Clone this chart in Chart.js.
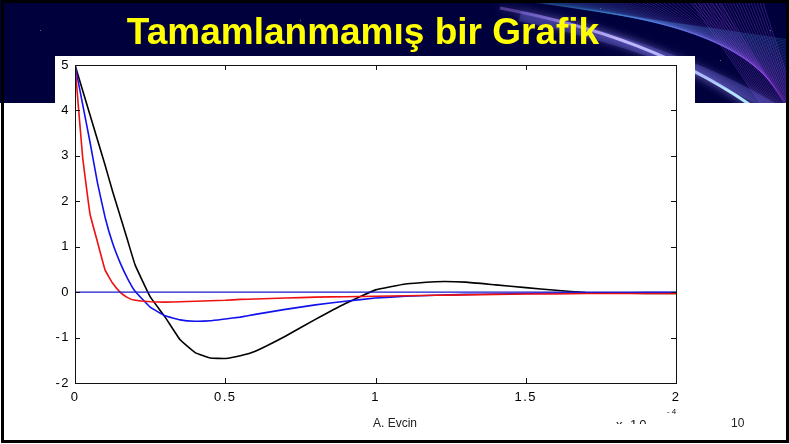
<!DOCTYPE html>
<html>
<head>
<meta charset="utf-8">
<script src="https://cdn.jsdelivr.net/npm/chart.js@4/dist/chart.umd.min.js"></script>
<style>
html,body{margin:0;padding:0;background:#fff;width:789px;height:444px;overflow:hidden;font-family:"Liberation Sans",Arial,sans-serif}
#bg{position:absolute;left:0;top:0}
#plotbox{position:absolute;left:55px;top:56px;width:640px;height:368px;background:#fff}
#frame{position:absolute;left:1px;top:0;width:788px;height:443px;box-sizing:border-box;border:3px solid #000;pointer-events:none}
#title{position:absolute;left:0;width:726px;top:13px;line-height:37px;text-align:center;color:#ffff00;font-weight:bold;font-size:37px;white-space:nowrap}
#chartWrap{position:absolute;left:0;top:0;width:789px;height:444px}
#author{position:absolute;left:373px;top:416px;font-size:12px;color:#222;line-height:14px}
#page{position:absolute;left:731px;top:416px;font-size:12px;color:#222;line-height:14px}
#expo{position:absolute;left:616px;top:404px;width:70px;height:20px;overflow:hidden;font-size:13px;color:#111;letter-spacing:2px}
#expo span.base{position:absolute;left:0;top:13px;line-height:15px}
#expo sup{position:absolute;left:51px;top:3px;font-size:8px;line-height:9px}
</style>
</head>
<body>
<canvas id="bg" width="789" height="444"></canvas>
<div id="title">Tamamlanmamış bir Grafik</div>
<div id="plotbox"></div>
<div id="chartWrap"><canvas id="c" width="789" height="444"></canvas></div>
<div id="expo"><span class="base">x 10</span><sup>-4</sup></div>
<div id="author">A. Evcin</div>
<div id="page">10</div>
<div id="frame"></div>
<script>
// ---- data (time in units of 1e-4) ----
const tValues = [0, 0.025, 0.05, 0.075, 0.1, 0.125, 0.15, 0.175, 0.2, 0.25, 0.3, 0.35, 0.4, 0.45, 0.5, 0.55, 0.6, 0.7, 0.8, 0.9, 1.0, 1.1, 1.2, 1.3, 1.4, 1.5, 1.6, 1.7, 1.8, 1.9, 2.0];
const blackSeries = [5, 4.45, 3.9, 3.35, 2.8, 2.22, 1.68, 1.14, 0.6, -0.1, -0.55, -1.05, -1.33, -1.45, -1.46, -1.4, -1.3, -0.97, -0.6, -0.25, 0.05, 0.18, 0.23, 0.22, 0.16, 0.1, 0.04, -0.01, -0.02, -0.03, -0.03];
const blueSeries  = [5, 4.15, 3.3, 2.4, 1.65, 1.08, 0.65, 0.3, 0.02, -0.33, -0.52, -0.61, -0.64, -0.63, -0.59, -0.55, -0.49, -0.38, -0.28, -0.2, -0.13, -0.09, -0.07, -0.05, -0.04, -0.03, -0.02, -0.02, -0.02, -0.01, -0.01];
const redSeries   = [5, 3.0, 1.72, 1.1, 0.49, 0.2, 0.0, -0.12, -0.18, -0.21, -0.22, -0.21, -0.2, -0.19, -0.18, -0.16, -0.15, -0.13, -0.11, -0.1, -0.09, -0.08, -0.07, -0.06, -0.05, -0.04, -0.04, -0.03, -0.03, -0.03, -0.03];
const zeroLineT = [0, 2];
const zeroLineV = [0, 0];
const xTickValues = [0, 0.5, 1, 1.5, 2];
const xTickLabels = ["0", "0.5", "1", "1.5", "2"];
const yTickValues = [-2, -1, 0, 1, 2, 3, 4, 5];
const yTickLabels = ["-2", "-1", "0", "1", "2", "3", "4", "5"];

// ---- decorative slide background ----
(function(){
  const c = document.getElementById('bg').getContext('2d');
  c.fillStyle = '#fff'; c.fillRect(0,0,789,444);
  c.fillStyle = '#00003d'; c.fillRect(0,0,789,103);
  c.save();
  c.beginPath(); c.rect(0,0,789,103); c.clip();
  c.fillStyle='rgba(200,200,255,0.5)';
  [[130,80],[300,20],[470,60],[600,8],[720,60],[770,30],[40,30],[250,90],[520,95]].forEach(p=>{c.fillRect(p[0],p[1],1,1);});
  for (let i=0;i<45;i++){
    const f=i/44;
    c.strokeStyle = `rgba(${Math.round(60+120*f)},${Math.round(150-80*f)},${Math.round(220+30*f)},0.28)`;
    c.lineWidth=1;
    c.beginPath();
    c.moveTo(520+i*4.5, 0);
    c.lineTo(789, 40+i*1.6);
    c.stroke();
  }
  for (let i=0;i<25;i++){
    c.strokeStyle = `rgba(150,90,240,0.3)`;
    c.beginPath();
    c.moveTo(690+i*3, 0);
    c.lineTo(760+i*1.5, 103);
    c.stroke();
  }
  c.shadowColor='rgba(170,150,255,0.9)'; c.shadowBlur=8;
  const g=c.createLinearGradient(520,10,760,110);
  g.addColorStop(0,'rgba(180,130,255,0.4)');
  g.addColorStop(0.4,'rgba(235,220,255,0.95)');
  g.addColorStop(1,'rgba(170,240,255,1)');
  c.strokeStyle=g; c.lineWidth=3;
  c.beginPath(); c.moveTo(500,8); c.quadraticCurveTo(660,38,760,112); c.stroke();
  c.lineWidth=10; c.strokeStyle='rgba(120,120,255,0.25)';
  c.beginPath(); c.moveTo(520,16); c.quadraticCurveTo(680,50,780,112); c.stroke();
  c.restore();
})();

// ---- chart ----
const pts = (xs, ys) => xs.map((x, i) => ({x: x, y: ys[i]}));

const boxPlugin = {
  id: 'boxTicks',
  beforeDraw(chart){ chart.ctx.letterSpacing = '1.5px'; },
  afterDraw(chart){
    const ctx = chart.ctx, a = chart.chartArea;
    const xs = chart.scales.x, ys = chart.scales.y;
    ctx.save();
    ctx.letterSpacing = '0px';
    ctx.strokeStyle = '#111'; ctx.lineWidth = 1;
    ctx.strokeRect(Math.round(a.left)+0.5, Math.round(a.top)+0.5, Math.round(a.right-a.left), Math.round(a.bottom-a.top));
    ctx.beginPath();
    yTickValues.forEach(v => {
      const p = Math.round(ys.getPixelForValue(v)) + 0.5;
      ctx.moveTo(a.left, p); ctx.lineTo(a.left + 5, p);
      ctx.moveTo(a.right, p); ctx.lineTo(a.right - 5, p);
    });
    xTickValues.forEach(v => {
      const p = Math.round(xs.getPixelForValue(v)) + 0.5;
      ctx.moveTo(p, a.bottom); ctx.lineTo(p, a.bottom - 5);
      ctx.moveTo(p, a.top); ctx.lineTo(p, a.top + 5);
    });
    ctx.stroke();
    ctx.restore();
  }
};

new Chart(document.getElementById('c'), {
  type: 'line',
  data: {
    datasets: [
      {label: 'zero', data: pts(zeroLineT, zeroLineV), borderColor: '#1a1acc', borderWidth: 1.2, pointRadius: 0, order: 0},
      {label: 'red', data: pts(tValues, redSeries), borderColor: '#ee1111', borderWidth: 1.6, pointRadius: 0, order: 1},
      {label: 'blue', data: pts(tValues, blueSeries), borderColor: '#1111ee', borderWidth: 1.6, pointRadius: 0, order: 2},
      {label: 'black', data: pts(tValues, blackSeries), borderColor: '#000000', borderWidth: 1.6, pointRadius: 0, order: 3}
    ]
  },
  options: {
    responsive: false,
    animation: false,
    events: [],
    layout: {padding: {left: 0, top: 65, right: 113, bottom: 31}},
    plugins: {legend: {display: false}, tooltip: {enabled: false}, title: {display: false}},
    elements: {line: {tension: 0.1, fill: false}},
    scales: {
      x: {
        type: 'linear', min: 0, max: 2,
        grid: {display: false, drawTicks: false},
        border: {display: false},
        afterBuildTicks: s => { s.ticks = xTickValues.map(v => ({value: v})); },
        afterFit: s => { s.height = 30; },
        ticks: {
          padding: 7, color: '#000', maxRotation: 0, autoSkip: false,
          font: {family: '"Liberation Sans", Arial, sans-serif', size: 13},
          callback: v => xTickLabels[xTickValues.indexOf(v)]
        }
      },
      y: {
        type: 'linear', min: -2, max: 5,
        grid: {display: false, drawTicks: false},
        border: {display: false},
        afterBuildTicks: s => { s.ticks = yTickValues.map(v => ({value: v})); },
        afterFit: s => { s.width = 75; },
        ticks: {
          padding: 5, color: '#000', autoSkip: false,
          font: {family: '"Liberation Sans", Arial, sans-serif', size: 13},
          callback: v => yTickLabels[yTickValues.indexOf(v)]
        }
      }
    }
  },
  plugins: [boxPlugin]
});
</script>
</body>
</html>
